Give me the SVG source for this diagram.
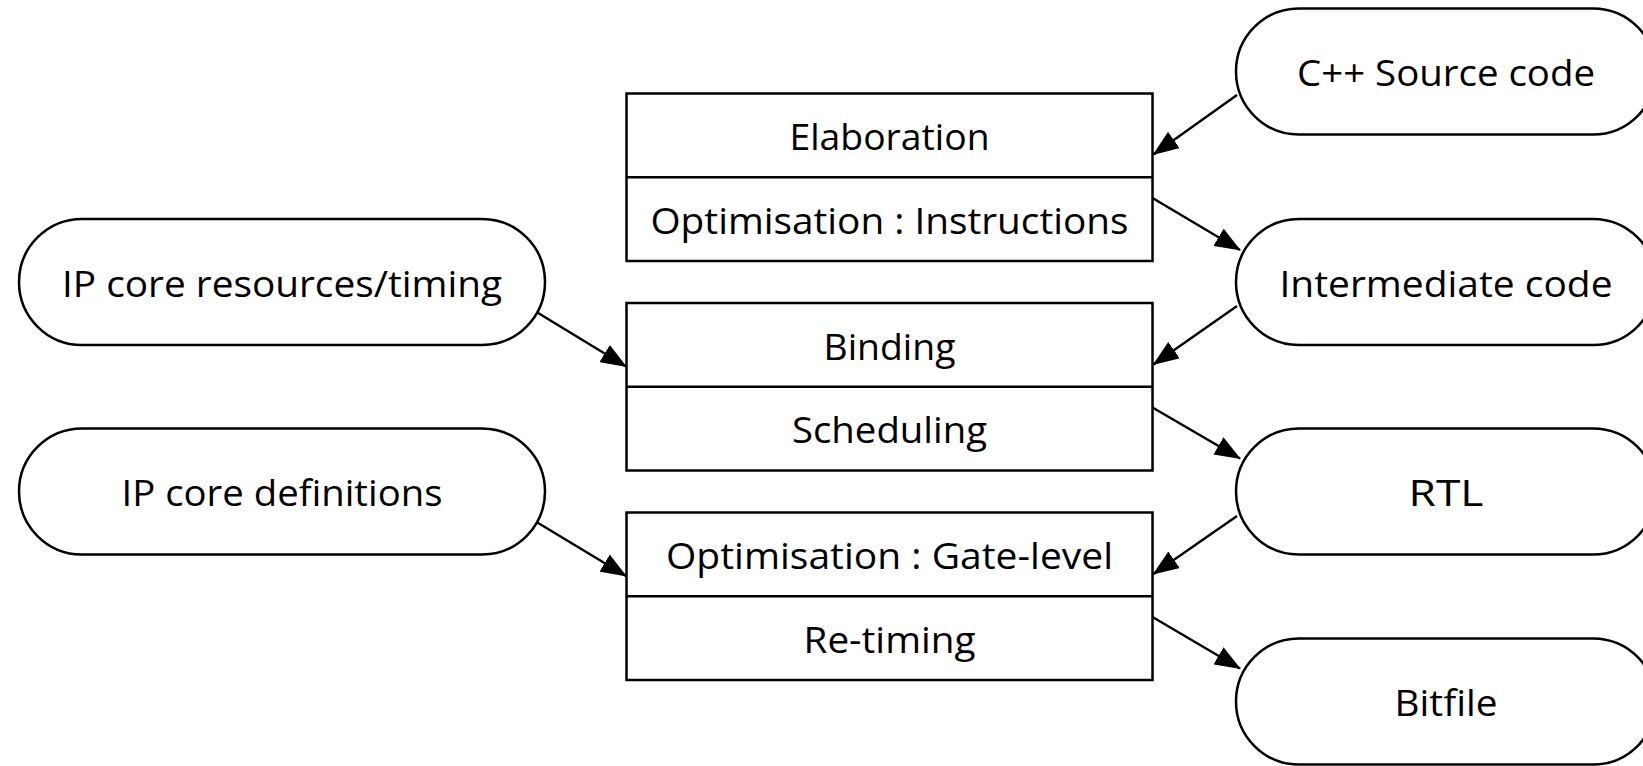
<svg xmlns="http://www.w3.org/2000/svg" width="1643" height="766" viewBox="0 0 1643 766">
<style>
.sh{fill:#fff;stroke:#000;stroke-width:2.5}
.ln{fill:none;stroke:#000;stroke-width:2.5}
.t{font-family:"Open Sans","Liberation Sans",sans-serif;font-size:37px;fill:#000;text-anchor:middle;dominant-baseline:central}
.c{fill:none;stroke:#000;stroke-width:2.4;marker-end:url(#ah)}
</style>
<defs>
<marker id="ah" markerUnits="userSpaceOnUse" markerWidth="26" markerHeight="20" refX="25" refY="10" orient="auto">
<path d="M0,0 L26,10 L0,20 Z" fill="#000"/>
</marker>
</defs>
<rect width="1643" height="766" fill="#fff"/>
<g id="src"><rect class="sh" x="1236" y="8.5" width="420" height="126" rx="63"/><text class="t" x="1446" y="71" textLength="298" lengthAdjust="spacingAndGlyphs">C++ Source code</text></g>
<g id="inter"><rect class="sh" x="1236" y="219" width="420" height="126" rx="63"/><text class="t" x="1446" y="282" textLength="333" lengthAdjust="spacingAndGlyphs">Intermediate code</text></g>
<g id="rtl"><rect class="sh" x="1236" y="428.5" width="420" height="126" rx="63"/><text class="t" x="1446" y="491.5" textLength="75" lengthAdjust="spacingAndGlyphs">RTL</text></g>
<g id="bit"><rect class="sh" x="1236" y="638.5" width="420" height="126" rx="63"/><text class="t" x="1446" y="701.5" textLength="103" lengthAdjust="spacingAndGlyphs">Bitfile</text></g>
<g id="ipres"><rect class="sh" x="19" y="219" width="526" height="126" rx="63"/><text class="t" x="282" y="282" textLength="440" lengthAdjust="spacingAndGlyphs">IP core resources/timing</text></g>
<g id="ipdef"><rect class="sh" x="19" y="428.5" width="526" height="126" rx="63"/><text class="t" x="282" y="491.5" textLength="321" lengthAdjust="spacingAndGlyphs">IP core definitions</text></g>
<g id="box1"><rect class="sh" x="626.5" y="93.5" width="526" height="167.5"/><line class="ln" x1="626.5" y1="177.2" x2="1152.5" y2="177.2"/>
<text class="t" x="889.5" y="135.5" textLength="200" lengthAdjust="spacingAndGlyphs">Elaboration</text>
<text class="t" x="889.5" y="219" textLength="478" lengthAdjust="spacingAndGlyphs">Optimisation : Instructions</text></g>
<g id="box2"><rect class="sh" x="626.5" y="303" width="526" height="167.5"/><line class="ln" x1="626.5" y1="386.7" x2="1152.5" y2="386.7"/>
<text class="t" x="889.5" y="345" textLength="132" lengthAdjust="spacingAndGlyphs">Binding</text>
<text class="t" x="889.5" y="428.5" textLength="195" lengthAdjust="spacingAndGlyphs">Scheduling</text></g>
<g id="box3"><rect class="sh" x="626.5" y="512.5" width="526" height="167.5"/><line class="ln" x1="626.5" y1="596.2" x2="1152.5" y2="596.2"/>
<text class="t" x="889.5" y="554.5" textLength="447" lengthAdjust="spacingAndGlyphs">Optimisation : Gate-level</text>
<text class="t" x="889.5" y="638" textLength="172" lengthAdjust="spacingAndGlyphs">Re-timing</text></g>
<g id="connectors">
<line class="c" x1="1237" y1="95" x2="1153.5" y2="154.5"/>
<line class="c" x1="1152.5" y1="198" x2="1240" y2="250"/>
<line class="c" x1="1237" y1="306" x2="1153.5" y2="364.5"/>
<line class="c" x1="1152.5" y1="407.5" x2="1240" y2="458.5"/>
<line class="c" x1="1237" y1="516" x2="1153.5" y2="574"/>
<line class="c" x1="1152.5" y1="617" x2="1240" y2="668.5"/>
<line class="c" x1="536.5" y1="312" x2="626" y2="366.5"/>
<line class="c" x1="536.5" y1="522" x2="626" y2="576"/>
</g>
</svg>
